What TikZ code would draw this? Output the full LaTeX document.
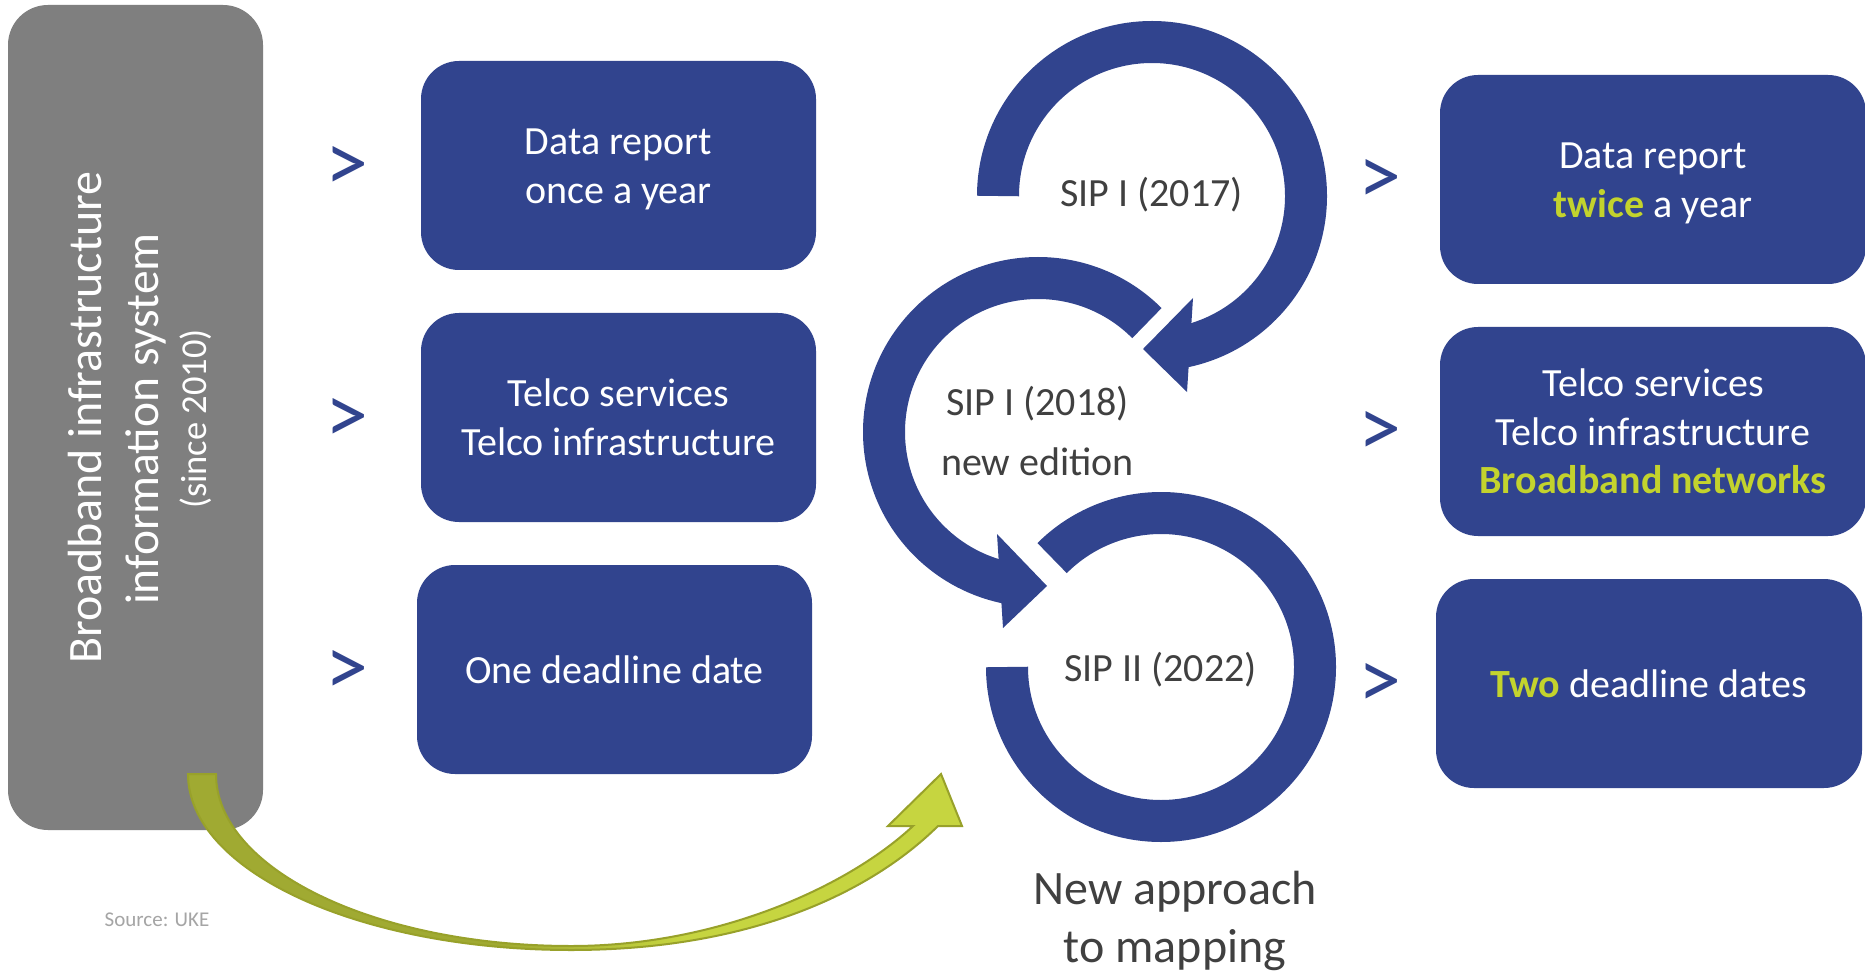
\documentclass[tikz,border=0pt]{standalone}
\usepackage{fontspec}
\setmainfont{Carlito}
\usetikzlibrary{calc}
\definecolor{myblue}{HTML}{31448E}
\definecolor{boxgray}{HTML}{7F7F7F}
\definecolor{hlgreen}{HTML}{C3D32D}
\definecolor{txtgray}{HTML}{404040}
\definecolor{srcgray}{HTML}{A5A5A5}
\definecolor{garrowA}{HTML}{A0AA32}
\definecolor{garrowB}{HTML}{C6D540}
\definecolor{gborder}{HTML}{98A12A}
\pgfdeclarehorizontalshading{greenarrow}{100bp}{color(0bp)=(garrowA); color(45bp)=(garrowA); color(57bp)=(garrowB); color(100bp)=(garrowB)}
\newcommand\ls{\rule[-0.26em]{0pt}{1.195em}}
\newcommand\greenbf[1]{{\bfseries\color{hlgreen}#1}}
\begin{document}
\begin{tikzpicture}[x=1pt,y=1pt,
  graybox/.style={fill=boxgray, rounded corners=40pt, inner sep=0pt},
  vtxt/.style={text=white, rotate=90, inner sep=0pt, anchor=base},
  bluebox/.style={fill=myblue, rounded corners=38pt, inner sep=0pt, minimum height=209pt,
    text=white, font=\fontsize{40}{48.5}\selectfont, align=center},
  chev/.style={text=myblue, font=\fontsize{86}{86}\selectfont, inner sep=0pt},
  circtxt/.style={text=txtgray, font=\fontsize{40}{48.5}\selectfont, inner sep=0pt, align=center},
  ring/.style={draw=myblue, line width=42pt},
  ahead/.style={fill=myblue}]
\useasboundingbox (0,0) rectangle (1865,-973);
\fill[white] (0,0) rectangle (1865,-973);

% left gray box
\node[graybox, minimum width=255pt, minimum height=825pt] (sys) at (135.5,-417.5) {};
\node[vtxt, font=\fontsize{48}{58}\selectfont] (sysa) at (101,-417.5) {Broadband infrastructure};
\node[vtxt, font=\fontsize{47.5}{58}\selectfont] (sysb) at (158,-419) {information system};
\node[vtxt, font=\fontsize{36.5}{44}\selectfont] (sysc) at (206,-419) {(since 2010)};

% green curved arrow
\shadedraw[shading=greenarrow, draw=gborder, line width=2pt, line join=miter]
  (188,-774) .. controls (188,-871) and (359,-950) .. (571,-950)
  .. controls (750,-950) and (870,-893) .. (938,-826)
  -- (962,-826) -- (941,-774) -- (888,-826) -- (913,-826)
  .. controls (850,-885) and (720,-946) .. (571,-946)
  .. controls (375,-946) and (216,-869) .. (216,-774) -- cycle;

% chevrons
\node[chev] (c1) at (347,-169) {>};
\node[chev] (c2) at (347,-421) {>};
\node[chev] (c3) at (347,-673) {>};
\node[chev] (c4) at (1380,-182) {>};
\node[chev] (c5) at (1380,-434) {>};
\node[chev] (c6) at (1380,-686) {>};

% middle boxes
\node[bluebox, minimum width=395pt] (m1) at (618.5,-165.5) {\ls Data report\\\ls once a year};
\node[bluebox, minimum width=395pt] (m2) at (618.5,-417.5) {\ls Telco services\\\ls Telco infrastructure};
\node[bluebox, minimum width=395pt] (m3) at (614.5,-669.5) {\ls One deadline date};

% right boxes
\node[bluebox, minimum width=426pt] (r1) at (1653,-179.5) {\ls Data report\\\ls\greenbf{twice} a year};
\node[bluebox, minimum width=426pt] (r2) at (1653,-431.5) {\ls Telco services\\\ls Telco infrastructure\\\ls\greenbf{Broadband networks}};
\node[bluebox, minimum width=426pt] (r3) at (1649,-683.5) {\ls\greenbf{Two} deadline dates};

% circular arrows
\begin{scope}[shift={(1152,-196)}]
  \draw[ring] (180:154) arc[start angle=180, end angle=-80, radius=154];
  \fill[ahead] (41,-102) -- (35,-196) -- (-9,-153) -- cycle;
\end{scope}
\begin{scope}[shift={(1038,-432)}]
  \draw[ring] (45:154) arc[start angle=45, end angle=260, radius=154];
  \fill[ahead] (-41,-102) -- (-35,-196) -- (9,-154) -- cycle;
\end{scope}
\begin{scope}[shift={(1161,-667)}]
  \draw[ring] (180:154) arc[start angle=180, end angle=495, radius=154];
\end{scope}

% circle texts
\node[circtxt] (t17) at (1151.5,-193.5) {\ls SIP I (2017)};
\node[circtxt] (t18) at (1037.5,-431.5) {\ls SIP I (2018)\\[11.5pt]\ls new edition};
\node[circtxt] (t22) at (1160.5,-667.5) {\ls SIP II (2022)};
\node[circtxt, font=\fontsize{48}{57}\selectfont] (tnew) at (1175,-917.3) {\ls New approach\\\ls to mapping};

% source
\node[font=\fontsize{21}{25}\selectfont, text=srcgray, inner sep=0pt, anchor=base] (src) at (157,-926) {Source: UKE};
\end{tikzpicture}
\end{document}
